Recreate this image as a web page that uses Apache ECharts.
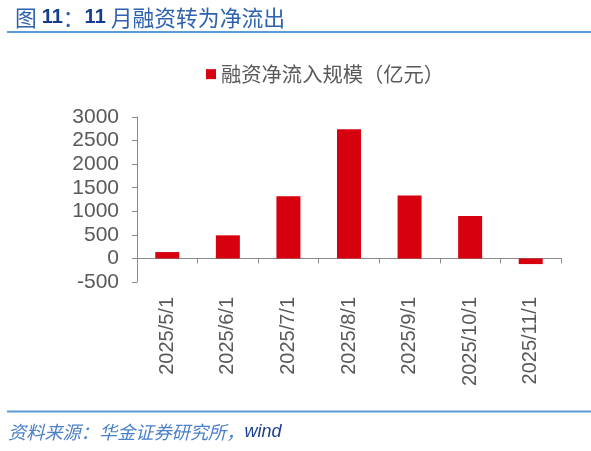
<!DOCTYPE html>
<html lang="zh">

<head>
    <meta charset="UTF-8">
    <title>11月融资转为净流出</title>
    <script src="https://cdn.jsdelivr.net/npm/echarts@6/dist/echarts.min.js"></script>
    <style>
        html, body { margin: 0; padding: 0; background: #fff; }
    </style>
</head>

<body>
    <div id="main" style="width: 591px;height:451px;"></div>
</body>
<script>
    // 数据
    var seriesName = '融资净流入规模（亿元）';
    var months = ['2025/5/1', '2025/6/1', '2025/7/1', '2025/8/1', '2025/9/1', '2025/10/1', '2025/11/1'];
    var netInflow = [135, 490, 1320, 2740, 1335, 900, -120];
    var yTicks = { min: -500, max: 3000, interval: 500 };

    var cjk = '"Noto Sans CJK SC", sans-serif';
    var latin = '"Liberation Sans", Arial, sans-serif';
    var lineBlue = '#5B9BD5';

    var myChart = echarts.init(document.getElementById('main'));

    var option = {
        animation: false,
        backgroundColor: '#fff',
        title: {
            left: 10,
            top: 2,
            text: '{a|图 }{b|11}{a|：}{b|11}{a| 月融资转为净流出}',
            textStyle: {
                fontWeight: 'normal',
                rich: {
                    a: { fontFamily: cjk, fontSize: 21.8, fontWeight: 'normal', color: '#2E62AE' },
                    b: { fontFamily: latin, fontSize: 20, fontWeight: 'bold', color: '#123E8C' }
                }
            }
        },
        legend: {
            left: 201,
            top: 59,
            icon: 'rect',
            itemWidth: 10,
            itemHeight: 10,
            textStyle: { fontFamily: cjk, fontSize: 20.3, color: '#595959' },
            data: [seriesName]
        },
        grid: {
            left: 137,
            right: 30,
            top: 117,
            bottom: 169,
            containLabel: false
        },
        xAxis: {
            type: 'category',
            data: months,
            axisLine: { onZero: true, lineStyle: { color: '#898989', width: 1 } },
            axisTick: { show: true, length: 5, lineStyle: { color: '#898989' } },
            axisLabel: {
                rotate: 90,
                margin: 15,
                fontFamily: latin,
                fontSize: 20,
                color: '#595959'
            }
        },
        yAxis: {
            type: 'value',
            min: yTicks.min,
            max: yTicks.max,
            interval: yTicks.interval,
            axisLine: { show: true, lineStyle: { color: '#898989', width: 1 } },
            axisTick: { show: true, length: 5, lineStyle: { color: '#898989' } },
            splitLine: { show: false },
            axisLabel: {
                margin: 18,
                fontFamily: latin,
                fontSize: 21,
                color: '#595959',
                formatter: function (v) { return String(v); }
            }
        },
        graphic: [
            {
                type: 'line',
                shape: { x1: 7, y1: 32, x2: 591, y2: 32 },
                style: { stroke: lineBlue, lineWidth: 2 }
            },
            {
                type: 'line',
                shape: { x1: 7, y1: 411.5, x2: 591, y2: 411.5 },
                style: { stroke: lineBlue, lineWidth: 2 }
            },
            {
                type: 'text',
                left: 8,
                top: 423,
                style: {
                    text: '{a|资料来源：华金证券研究所，}{b|wind}',
                    rich: {
                        a: { fontFamily: cjk, fontSize: 18.2, fontStyle: 'italic', fill: '#4A80C8' },
                        b: { fontFamily: latin, fontSize: 18, fontStyle: 'italic', fill: '#1B3F8F' }
                    }
                }
            }
        ],
        series: [{
            name: seriesName,
            type: 'bar',
            barWidth: 24,
            data: netInflow,
            itemStyle: { color: '#D7000F' }
        }]
    };

    myChart.setOption(option);
</script>

</html>
